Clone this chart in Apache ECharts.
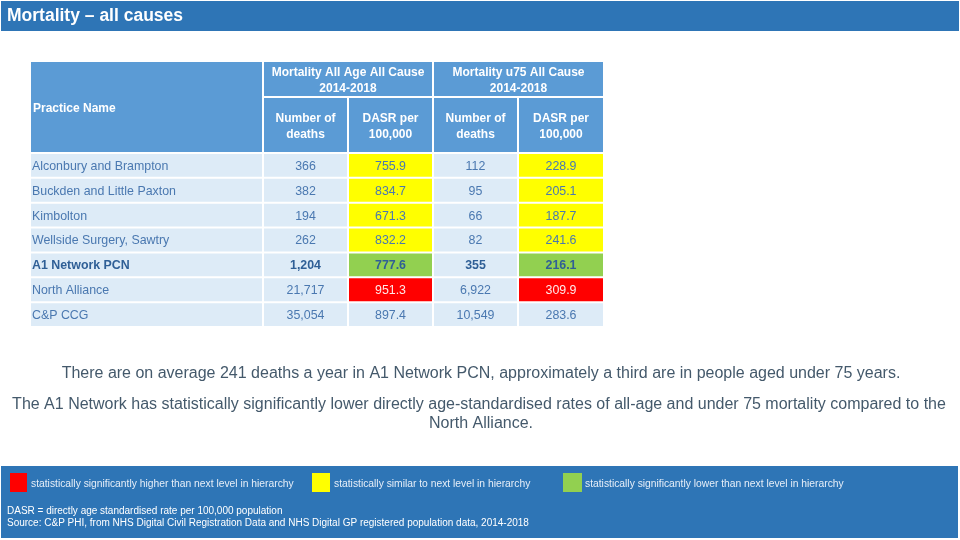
<!DOCTYPE html>
<html>
<head>
<meta charset="utf-8">
<script src="https://cdn.jsdelivr.net/npm/echarts@6/dist/echarts.min.js"></script>
<style>html,body{margin:0;padding:0;background:#fff}#c{width:960px;height:540px}</style>
</head>
<body>
<div id="c"></div>
<script>
// ---- Data ----
const practices = ['Alconbury and Brampton','Buckden and Little Paxton','Kimbolton','Wellside Surgery, Sawtry','A1 Network PCN','North Alliance','C&P CCG'];
const allAgeDeaths = [366, 382, 194, 262, 1204, 21717, 35054];
const allAgeDASR = [755.9, 834.7, 671.3, 832.2, 777.6, 951.3, 897.4];
const u75Deaths = [112, 95, 66, 82, 355, 6922, 10549];
const u75DASR = [228.9, 205.1, 187.7, 241.6, 216.1, 309.9, 283.6];
const allAgeSig = ['similar','similar','similar','similar','lower','higher',null];
const u75Sig = ['similar','similar','similar','similar','lower','higher',null];
const boldRows = ['A1 Network PCN'];
const groupHeaders = ['Mortality All Age All Cause\n2014-2018','Mortality u75 All Cause\n2014-2018'];
const subHeaders = ['Number of\ndeaths','DASR per\n100,000','Number of\ndeaths','DASR per\n100,000'];
const firstHeader = 'Practice Name';
const legendLabels = {
  higher: 'statistically significantly higher than next level in hierarchy',
  similar: 'statistically similar to next level in hierarchy',
  lower: 'statistically significantly lower than next level in hierarchy'
};
const titleText = 'Mortality \u2013 all causes';
const bodyLines = [
  'There are on average 241 deaths a year in A1 Network PCN, approximately a third are in people aged under 75 years.',
  'The A1 Network has statistically significantly lower directly age-standardised rates of all-age and under 75 mortality compared to the',
  'North Alliance.'
];
const noteLines = [
  'DASR = directly age standardised rate per 100,000 population',
  'Source: C&P PHI, from NHS Digital Civil Registration Data and NHS Digital GP registered population data, 2014-2018'
];

// ---- Styles / layout ----
const colEdges = [0, 233, 318, 403, 488, 574];
const sigColor = {higher:'#FF0000', similar:'#FFFF00', lower:'#92D050'};
const headBlue = '#5B9BD5';
const rowBlue = '#DDEBF7';
const barBlue = '#2E75B6';
const txtBlue = '#4A78B0';
const boldBlue = '#2F5F96';
const FONT = '"Liberation Sans", Arial, sans-serif';

const fmtInt = v => v.toLocaleString('en-GB');
const fmtDec = v => v.toFixed(1);

// data cells
const cellData = [];
practices.forEach((p, r) => {
  const cols = [
    {t: p, sig: null},
    {t: fmtInt(allAgeDeaths[r]), sig: null},
    {t: fmtDec(allAgeDASR[r]), sig: allAgeSig[r]},
    {t: fmtInt(u75Deaths[r]), sig: null},
    {t: fmtDec(u75DASR[r]), sig: u75Sig[r]}
  ];
  cols.forEach((c, ci) => {
    cellData.push([ci, r, c.t, c.sig || '', boldRows.includes(p) ? 1 : 0]);
  });
});

// header cells: [x0, x1, y0, y1, text, align]
const headerData = [
  [0, 1, 0, 2, firstHeader, 'left'],
  [1, 3, 0, 1, groupHeaders[0], 'center'],
  [3, 5, 0, 1, groupHeaders[1], 'center'],
  [1, 2, 1, 2, subHeaders[0], 'center'],
  [2, 3, 1, 2, subHeaders[1], 'center'],
  [3, 4, 1, 2, subHeaders[2], 'center'],
  [4, 5, 1, 2, subHeaders[3], 'center']
];
const headerRowEdges = [0, 36, 92];

const chart = echarts.init(document.getElementById('c'), null, {renderer: 'canvas'});

function renderCell(params, api) {
  const ci = api.value(0);
  const r = api.value(1);
  const text = api.value(2);
  const sig = api.value(3);
  const bold = api.value(4) === 1;
  const center = api.coord([0, r]);
  const h = api.size([0, 1])[1];
  const x0 = api.coord([colEdges[ci], r])[0];
  const x1 = api.coord([colEdges[ci + 1], r])[0];
  const y0 = center[1] - h / 2;
  let fill = rowBlue;
  let tcol = bold ? boldBlue : txtBlue;
  if (sig) { fill = sigColor[sig]; if (sig === 'higher') tcol = '#FFE8E8'; }
  return {
    type: 'group',
    children: [
      {type: 'rect', shape: {x: x0 + 1, y: y0 + 1, width: x1 - x0 - 2, height: h - 2}, style: {fill: fill}},
      {type: 'text', style: {
        x: ci === 0 ? x0 + 2 : (x0 + x1) / 2, y: center[1] + 1,
        text: text, align: ci === 0 ? 'left' : 'center', verticalAlign: 'middle',
        font: (bold ? 'bold ' : '') + '12.4px ' + FONT, fill: tcol
      }}
    ]
  };
}

function renderHeader(params, api) {
  const d = headerData[params.dataIndex];
  const p0 = api.coord([colEdges[d[0]], headerRowEdges[d[2]]]);
  const p1 = api.coord([colEdges[d[1]], headerRowEdges[d[3]]]);
  const x0 = p0[0], x1 = p1[0], y0 = p0[1], y1 = p1[1];
  return {
    type: 'group',
    children: [
      {type: 'rect', shape: {x: x0 + 1, y: y0 + 1, width: x1 - x0 - 2, height: y1 - y0 - 2}, style: {fill: headBlue}},
      {type: 'text', style: {
        x: d[5] === 'left' ? x0 + 3 : (x0 + x1) / 2, y: (y0 + y1) / 2 + 1.5,
        text: d[4], align: d[5], verticalAlign: 'middle',
        font: 'bold 12px ' + FONT, fill: '#FFFFFF', lineHeight: 16
      }}
    ]
  };
}

const graphics = [
  {type: 'rect', x: 1, y: 1, shape: {width: 958, height: 30}, style: {fill: barBlue}},
  {type: 'text', x: 7, y: 16, style: {text: titleText, font: 'bold 17.5px ' + FONT, fill: '#FFFFFF', verticalAlign: 'middle'}},
  {type: 'text', x: 481, y: 374, style: {text: bodyLines[0], font: '16px ' + FONT, fill: '#44596B', align: 'center', verticalAlign: 'middle'}},
  {type: 'text', x: 479, y: 405, style: {text: bodyLines[1], font: '16px ' + FONT, fill: '#44596B', align: 'center', verticalAlign: 'middle'}},
  {type: 'text', x: 481, y: 424, style: {text: bodyLines[2], font: '16px ' + FONT, fill: '#44596B', align: 'center', verticalAlign: 'middle'}},
  {type: 'rect', x: 1, y: 466, shape: {width: 957, height: 72}, style: {fill: barBlue}},
  {type: 'rect', x: 10, y: 473, shape: {width: 17, height: 19}, style: {fill: sigColor.higher}},
  {type: 'text', x: 31, y: 484, style: {text: legendLabels.higher, font: '10.3px ' + FONT, fill: '#E6EEF8', verticalAlign: 'middle'}},
  {type: 'rect', x: 312, y: 473, shape: {width: 18, height: 19}, style: {fill: sigColor.similar}},
  {type: 'text', x: 334, y: 484, style: {text: legendLabels.similar, font: '10.3px ' + FONT, fill: '#E6EEF8', verticalAlign: 'middle'}},
  {type: 'rect', x: 563, y: 473, shape: {width: 19, height: 19}, style: {fill: sigColor.lower}},
  {type: 'text', x: 585, y: 484, style: {text: legendLabels.lower, font: '10.3px ' + FONT, fill: '#E6EEF8', verticalAlign: 'middle'}},
  {type: 'text', x: 7, y: 511, style: {text: noteLines[0], font: '10px ' + FONT, fill: '#FFFFFF', verticalAlign: 'middle'}},
  {type: 'text', x: 7, y: 523, style: {text: noteLines[1], font: '10px ' + FONT, fill: '#FFFFFF', verticalAlign: 'middle'}}
];

chart.setOption({
  animation: false,
  backgroundColor: '#FFFFFF',
  grid: [
    {left: 30, top: 61, width: 574, height: 92},
    {left: 30, top: 153, width: 574, height: 174}
  ],
  xAxis: [
    {type: 'value', gridIndex: 0, min: 0, max: 574, show: false},
    {type: 'value', gridIndex: 1, min: 0, max: 574, show: false}
  ],
  yAxis: [
    {type: 'value', gridIndex: 0, min: 0, max: 92, inverse: true, show: false},
    {type: 'category', gridIndex: 1, data: practices, inverse: true, show: false}
  ],
  series: [
    {type: 'custom', xAxisIndex: 0, yAxisIndex: 0, renderItem: renderHeader,
     data: headerData.map(d => [colEdges[d[0]], colEdges[d[1]], headerRowEdges[d[2]], headerRowEdges[d[3]]]),
     encode: {x: [0, 1], y: [2, 3]}, silent: true},
    {type: 'custom', xAxisIndex: 1, yAxisIndex: 1, renderItem: renderCell,
     data: cellData, encode: {x: 0, y: 1}, silent: true}
  ],
  graphic: graphics
});
</script>
</body>
</html>
